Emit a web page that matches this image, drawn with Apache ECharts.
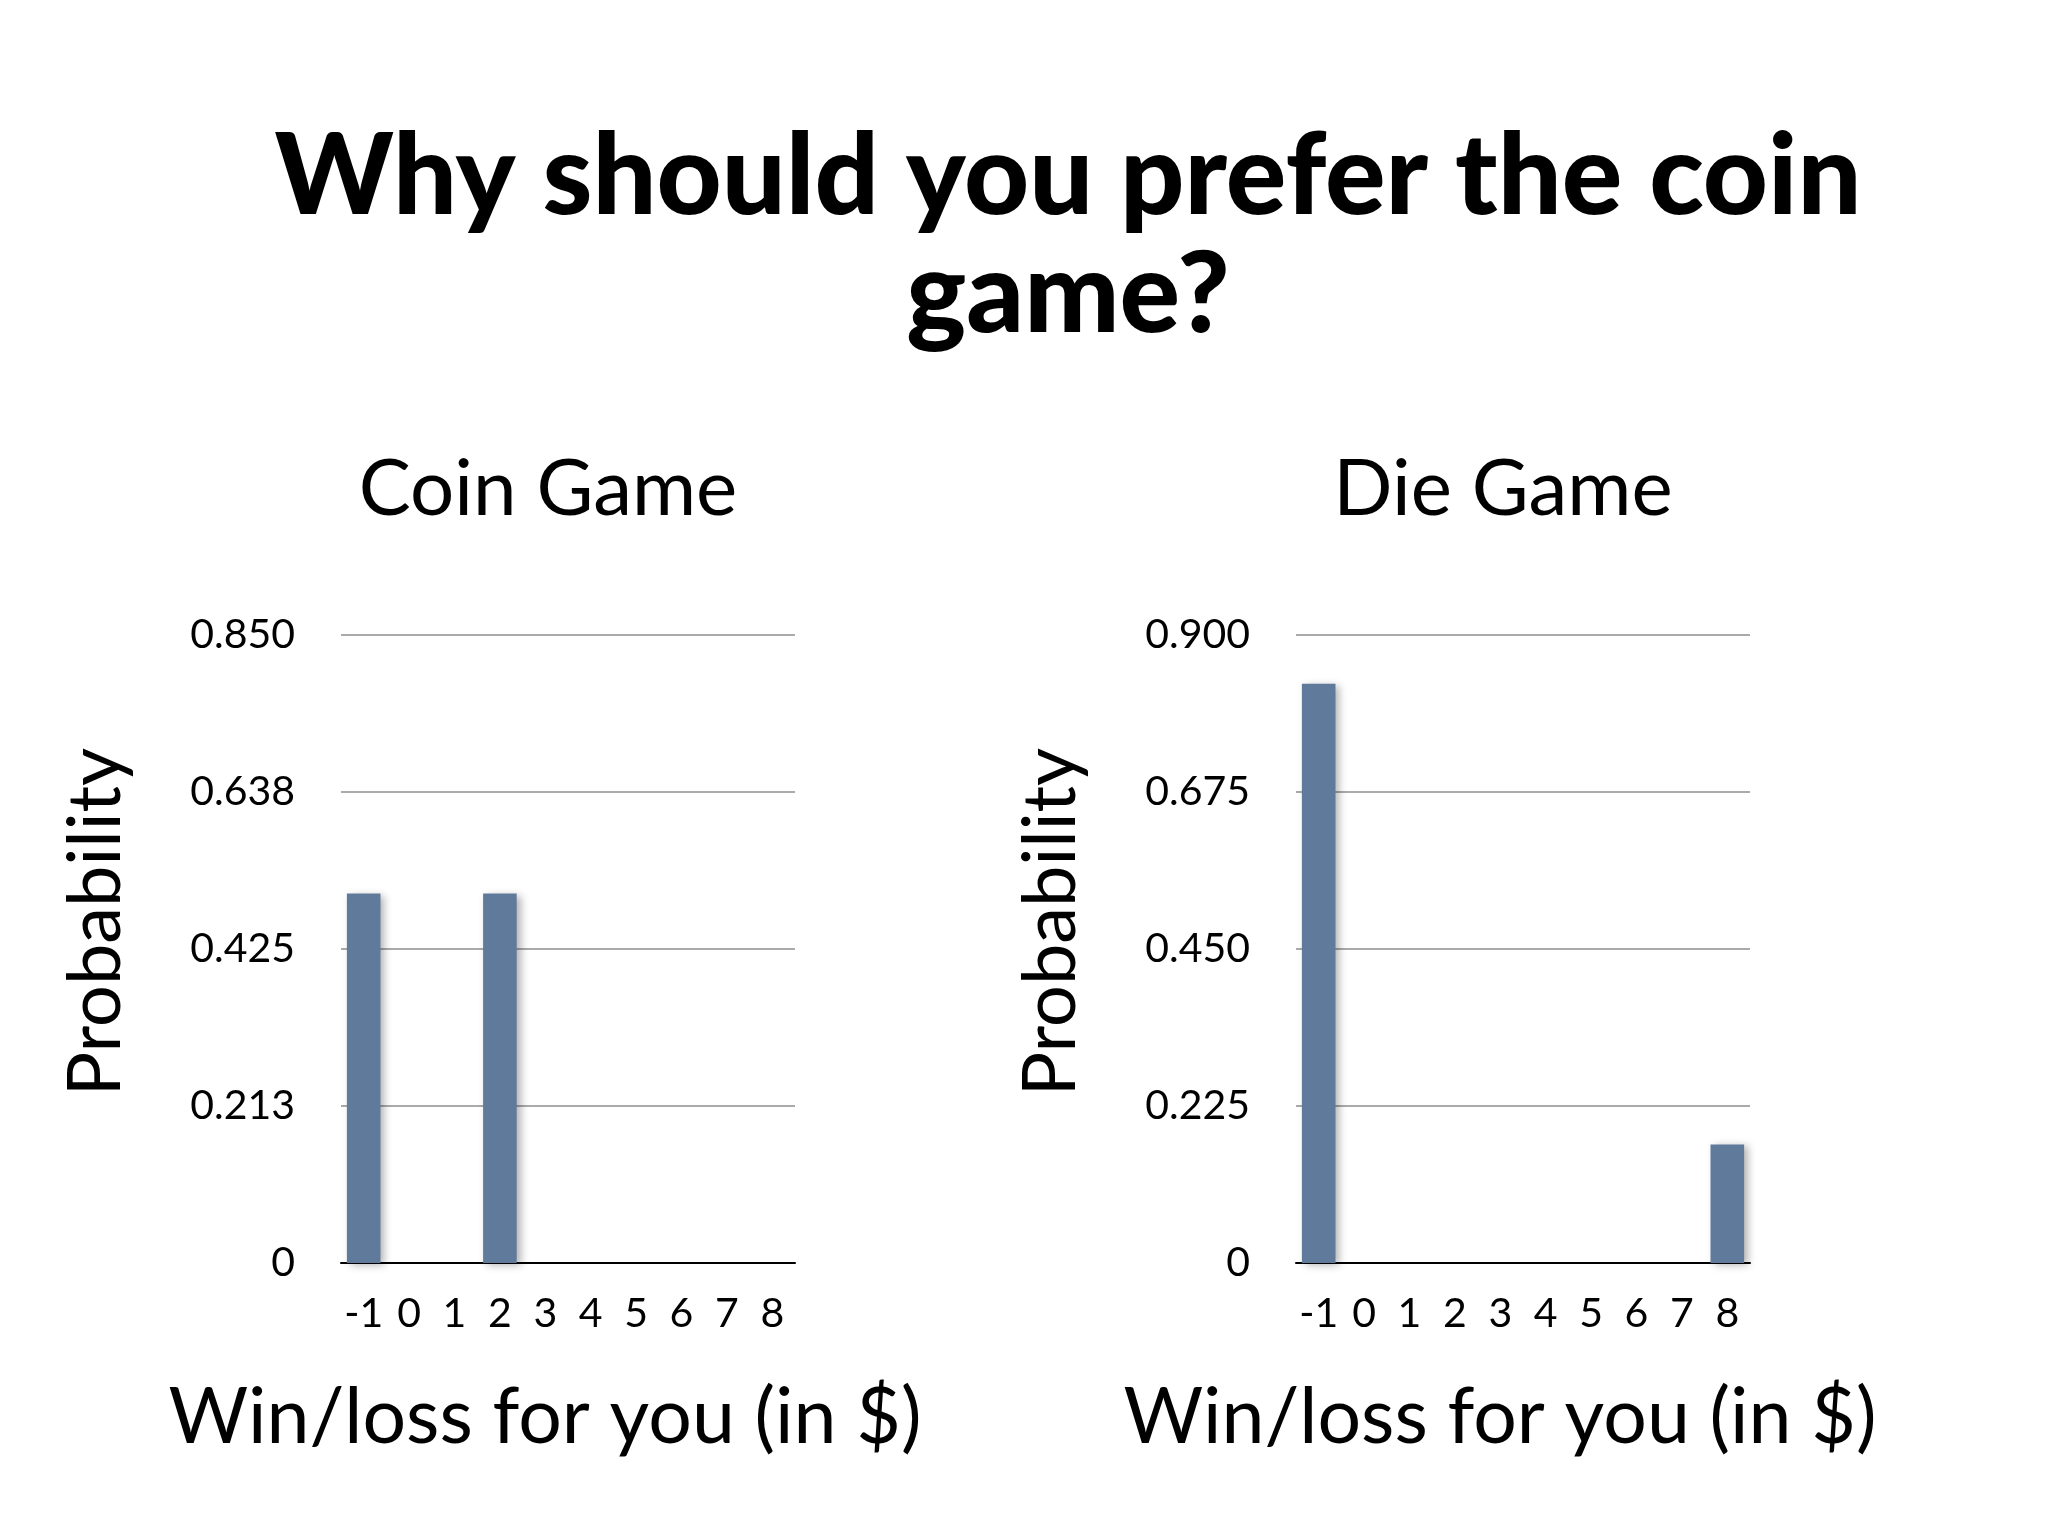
<!DOCTYPE html>
<html>
<head>
<meta charset="utf-8">
<title>Why should you prefer the coin game?</title>
<script src="https://cdn.jsdelivr.net/npm/echarts@6/dist/echarts.min.js"></script>
<style>
  html, body { margin: 0; padding: 0; background: #fff; }
  #chart { width: 2048px; height: 1536px; }
</style>
</head>
<body>
<div id="chart"></div>
<script>
// outcomes in dollars, shared by both games
const outcomes = ['-1', '0', '1', '2', '3', '4', '5', '6', '7', '8']
const coinProb = [0.5, 0, 0, 0.5, 0, 0, 0, 0, 0, 0]
const dieProb = [0.83, 0, 0, 0, 0, 0, 0, 0, 0, 0.17]
const coinTicks = ['0', '0.213', '0.425', '0.638', '0.850']
const dieTicks = ['0', '0.225', '0.450', '0.675', '0.900']
const coinMax = 0.85
const dieMax = 0.9

const font = 'Lato, "Open Sans", sans-serif'
const barColor = '#5f7a9b'

const makeXAxis = (gridIndex) => ({
  type: 'category',
  gridIndex,
  data: outcomes,
  axisTick: { show: false },
  axisLine: { lineStyle: { color: '#000', width: 2 } },
  axisLabel: { interval: 0, margin: 30, fontSize: 41, color: '#000', fontFamily: font },
  name: 'Win/loss for you (in $)',
  nameLocation: 'middle',
  nameGap: 117,
  nameTextStyle: { fontSize: 77, color: '#000', fontFamily: font, padding: [0, 46, 0, 0] }
})

const makeYAxis = (gridIndex, max, ticks) => ({
  type: 'value',
  gridIndex,
  min: 0,
  max,
  interval: max / 4,
  axisLine: { show: false },
  axisTick: { show: false },
  axisLabel: {
    margin: 46,
    fontSize: 41,
    color: '#000',
    fontFamily: font,
    formatter: (v, i) => ticks[i]
  },
  splitLine: { lineStyle: { color: '#aaaaaa', width: 2 } },
  name: 'Probability',
  nameLocation: 'middle',
  nameGap: 208,
  nameTextStyle: { fontSize: 74, color: '#000', fontFamily: font, padding: [0, 0, 0, 54] }
})

const makeSeries = (index, data) => ({
  type: 'bar',
  xAxisIndex: index,
  yAxisIndex: index,
  data,
  barCategoryGap: '26%',
  itemStyle: {
    color: barColor,
    shadowColor: 'rgba(0, 0, 0, 0.3)',
    shadowBlur: 8,
    shadowOffsetX: 4,
    shadowOffsetY: 2
  }
})

const chart = echarts.init(document.getElementById('chart'))
chart.setOption({
  backgroundColor: '#fff',
  animation: false,
  title: [
    {
      text: 'Why should you prefer the coin\ngame?',
      left: 1068,
      top: 119,
      padding: 0,
      textAlign: 'center',
      textStyle: { fontSize: 113, fontWeight: 900, lineHeight: 118, color: '#000', fontFamily: font }
    },
    {
      text: 'Coin Game',
      left: 548,
      top: 451,
      padding: 0,
      textAlign: 'center',
      textStyle: { fontSize: 78, fontWeight: 'normal', lineHeight: 78, color: '#000', fontFamily: font }
    },
    {
      text: 'Die Game',
      left: 1503,
      top: 451,
      padding: 0,
      textAlign: 'center',
      textStyle: { fontSize: 78, fontWeight: 'normal', lineHeight: 78, color: '#000', fontFamily: font }
    }
  ],
  grid: [
    { left: 341, top: 635, width: 454, height: 628 },
    { left: 1296, top: 635, width: 454, height: 628 }
  ],
  xAxis: [makeXAxis(0), makeXAxis(1)],
  yAxis: [makeYAxis(0, coinMax, coinTicks), makeYAxis(1, dieMax, dieTicks)],
  series: [makeSeries(0, coinProb), makeSeries(1, dieProb)]
})
</script>
</body>
</html>
